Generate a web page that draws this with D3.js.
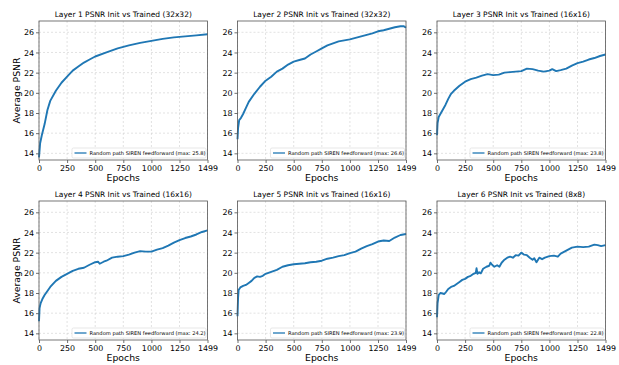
<!DOCTYPE html>
<html>
<head>
<meta charset="utf-8">
<script src="https://cdn.jsdelivr.net/npm/d3@7"></script>
<style>
  body { margin: 0; background: #fff; }
  svg text { font-family: "DejaVu Sans", sans-serif; fill: #000; }
</style>
</head>
<body>
<div class="psnr-grid"></div>
<script>
const titles = [
  'Layer 1 PSNR Init vs Trained (32x32)',
  'Layer 2 PSNR Init vs Trained (32x32)',
  'Layer 3 PSNR Init vs Trained (16x16)',
  'Layer 4 PSNR Init vs Trained (16x16)',
  'Layer 5 PSNR Init vs Trained (16x16)',
  'Layer 6 PSNR Init vs Trained (8x8)'
];
const maxValues = ['25.8', '26.6', '23.8', '24.2', '23.9', '22.8'];
const seriesName = 'Random path SIREN feedforward';
const xTicks = [0, 250, 500, 750, 1000, 1250, 1499];
const yTicks = [14, 16, 18, 20, 22, 24, 26];

// [epoch, avg psnr]
const layer1 = [[0,13.6],[10,15.0],[25,15.8],[50,16.9],[75,18.3],[100,19.2],[150,20.2],[200,21.0],[250,21.6],[300,22.2],[350,22.6],[400,23.0],[450,23.3],[500,23.6],[600,24.0],[700,24.4],[800,24.7],[900,24.95],[1000,25.15],[1100,25.35],[1200,25.5],[1300,25.6],[1400,25.7],[1499,25.8]];
const layer2 = [[0,15.4],[5,16.5],[15,17.3],[30,17.5],[50,17.9],[75,18.5],[100,19.1],[150,19.9],[200,20.6],[250,21.2],[300,21.6],[350,22.1],[400,22.4],[450,22.8],[500,23.1],[550,23.25],[600,23.4],[650,23.8],[700,24.1],[750,24.4],[800,24.7],[850,24.9],[900,25.1],[950,25.2],[1000,25.3],[1050,25.45],[1100,25.6],[1150,25.75],[1200,25.9],[1250,26.1],[1300,26.2],[1350,26.35],[1400,26.5],[1450,26.6],[1480,26.6],[1499,26.45]];
const layer3 = [[0,15.8],[5,17.0],[15,17.6],[30,17.9],[50,18.3],[75,18.8],[100,19.4],[125,19.9],[150,20.2],[200,20.7],[250,21.1],[300,21.35],[350,21.5],[400,21.7],[450,21.85],[500,21.75],[550,21.8],[600,22.0],[650,22.05],[700,22.1],[750,22.15],[800,22.4],[850,22.35],[900,22.2],[950,22.1],[1000,22.2],[1025,22.35],[1060,22.15],[1100,22.25],[1150,22.4],[1200,22.7],[1250,22.95],[1300,23.1],[1350,23.3],[1400,23.45],[1450,23.65],[1499,23.8]];
const layer4 = [[0,15.2],[5,16.5],[15,17.0],[30,17.4],[50,17.8],[75,18.2],[100,18.6],[150,19.2],[200,19.6],[250,19.9],[300,20.2],[350,20.4],[400,20.5],[450,20.8],[500,21.05],[525,21.1],[540,20.9],[575,21.1],[600,21.2],[650,21.5],[700,21.6],[750,21.65],[800,21.8],[850,22.0],[900,22.15],[950,22.1],[1000,22.1],[1050,22.3],[1100,22.45],[1150,22.7],[1200,23.0],[1250,23.25],[1300,23.45],[1350,23.6],[1400,23.8],[1450,24.05],[1499,24.2]];
const layer5 = [[0,15.7],[5,17.5],[10,18.3],[25,18.55],[50,18.7],[75,18.8],[100,19.0],[125,19.2],[150,19.5],[175,19.65],[200,19.6],[225,19.7],[250,19.9],[300,20.1],[350,20.3],[400,20.6],[450,20.75],[500,20.85],[550,20.9],[600,20.95],[650,21.05],[700,21.1],[750,21.2],[800,21.4],[850,21.5],[900,21.65],[950,21.75],[1000,21.95],[1050,22.1],[1100,22.4],[1150,22.65],[1200,22.85],[1250,23.1],[1300,23.2],[1350,23.15],[1400,23.5],[1450,23.75],[1499,23.85]];
const layer6 = [[0,15.6],[5,17.0],[15,17.8],[30,18.0],[50,17.95],[65,17.9],[80,18.1],[100,18.4],[125,18.6],[150,18.7],[175,18.9],[200,19.1],[225,19.3],[250,19.4],[275,19.6],[300,19.7],[325,19.9],[345,20.0],[352,20.45],[360,19.9],[375,20.05],[390,19.95],[410,20.4],[440,20.6],[465,20.7],[475,21.0],[490,20.8],[510,20.6],[535,20.75],[555,20.6],[575,21.0],[600,21.3],[625,21.5],[650,21.6],[675,21.5],[700,21.75],[725,21.7],[750,22.0],[775,21.8],[800,21.75],[825,21.5],[850,21.3],[865,21.45],[885,21.05],[910,21.5],[935,21.35],[960,21.5],[1000,21.65],[1040,21.7],[1075,21.6],[1100,21.9],[1150,22.2],[1200,22.5],[1250,22.6],[1300,22.55],[1350,22.6],[1400,22.8],[1430,22.75],[1460,22.65],[1499,22.75]];

const series = [layer1, layer2, layer3, layer4, layer5, layer6];

const width = 619, height = 365;
const colLeft = [39, 237.5, 437];
const rowTop = [21, 201];
const plotW = 168.5, plotH = 139;
const blue = '#1f77b4';

const svg = d3.select('.psnr-grid')
.append('svg')
.attr('width', width)
.attr('height', height)

const x = d3.scaleLinear().domain([0, 1499]).range([0, plotW]);
const y = d3.scaleLinear().domain([13.34, 27.12]).range([plotH, 0]);

const line = d3.line()
  .x(d => x(d[0]))
  .y(d => y(d[1]));

series.forEach((data, i) => {
  const col = i % 3, row = Math.floor(i / 3);
  const g = svg.append('g')
    .attr('transform', `translate(${colLeft[col]},${rowTop[row]})`);

  // grid
  g.append('g')
    .selectAll('line.vx')
    .data(xTicks)
    .join('line')
    .attr('x1', d => x(d)).attr('x2', d => x(d))
    .attr('y1', 0).attr('y2', plotH)
    .attr('stroke', '#cfcfcf').attr('stroke-width', 0.6)
    .attr('stroke-dasharray', '2,2');
  g.append('g')
    .selectAll('line.hy')
    .data(yTicks)
    .join('line')
    .attr('x1', 0).attr('x2', plotW)
    .attr('y1', d => y(d)).attr('y2', d => y(d))
    .attr('stroke', '#cfcfcf').attr('stroke-width', 0.6)
    .attr('stroke-dasharray', '2,2');

  const xAxis = g.append('g')
    .attr('transform', `translate(0,${plotH})`)
    .call(d3.axisBottom(x).tickValues(xTicks).tickFormat(d3.format('d')).tickSize(3).tickPadding(2));
  const yAxis = g.append('g')
    .call(d3.axisLeft(y).tickValues(yTicks).tickSize(3).tickPadding(2));
  [xAxis, yAxis].forEach(a => {
    a.select('.domain').remove();
    a.selectAll('line').attr('stroke', '#333').attr('stroke-width', 0.7);
    a.selectAll('text').attr('font-size', 7.9).attr('font-family', 'DejaVu Sans').attr('fill', '#000');
  });

  // data line
  g.append('path')
    .datum(data)
    .attr('d', line)
    .attr('fill', 'none')
    .attr('stroke', blue)
    .attr('stroke-width', 1.9)
    .attr('stroke-linejoin', 'round');

  // frame
  g.append('rect')
    .attr('width', plotW).attr('height', plotH)
    .attr('fill', 'none').attr('stroke', '#555').attr('stroke-width', 0.8);

  // legend
  const lg = g.append('g').attr('transform', `translate(${plotW - 135.5},${plotH - 12})`);
  lg.append('rect')
    .attr('width', 134).attr('height', 10).attr('rx', 1.5)
    .attr('fill', '#fff').attr('fill-opacity', 0.85)
    .attr('stroke', '#d6d6d6').attr('stroke-width', 0.6);
  lg.append('line')
    .attr('x1', 2.5).attr('x2', 14.5).attr('y1', 5).attr('y2', 5)
    .attr('stroke', blue).attr('stroke-width', 1.3);
  lg.append('text')
    .attr('x', 17.5).attr('y', 6.9)
    .attr('font-size', 5.15)
    .text(`${seriesName} (max: ${maxValues[i]})`);

  g.append('text')
    .attr('x', plotW / 2).attr('y', -4.5)
    .attr('text-anchor', 'middle')
    .attr('font-size', 7.5)
    .text(titles[i]);

  g.append('text')
    .attr('x', plotW / 2).attr('y', plotH + 21)
    .attr('text-anchor', 'middle')
    .attr('font-size', 9.3)
    .text('Epochs');

  if (col === 0) {
    g.append('text')
      .attr('transform', `translate(${-19},${plotH / 2}) rotate(-90)`)
      .attr('text-anchor', 'middle')
      .attr('font-size', 9.3)
      .text('Average PSNR');
  }
});
</script>
</body>
</html>
